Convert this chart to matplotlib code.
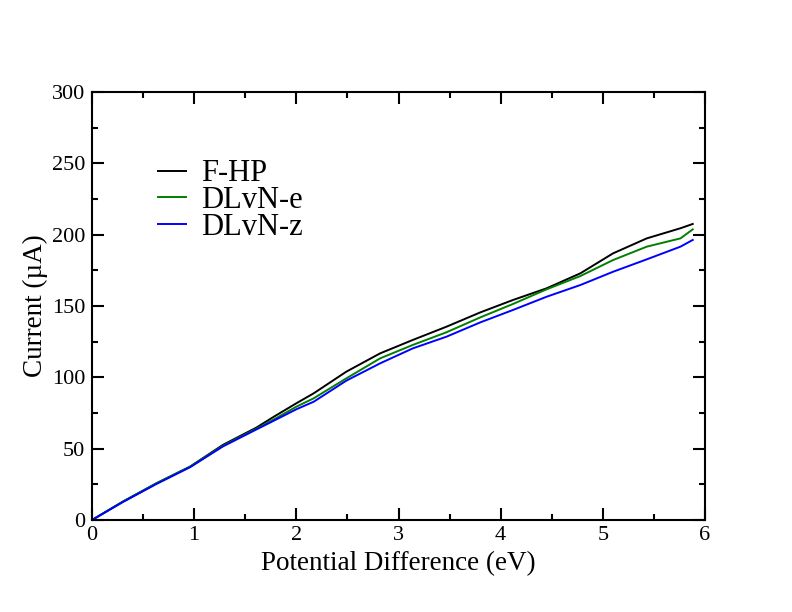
import matplotlib
matplotlib.use("Agg")
import matplotlib.pyplot as plt
from matplotlib.ticker import MultipleLocator

plt.rcParams['font.family'] = ['Liberation Serif', 'DejaVu Serif']

# potential difference (eV) sample points
voltage = [0.0, 0.30, 0.63, 0.96, 1.28, 1.61, 1.78, 2.00, 2.17, 2.49, 2.82,
           3.14, 3.47, 3.80, 4.12, 4.45, 4.78, 5.10, 5.43, 5.76, 5.88]

# current (uA) for each structure
current_fhp = [0.0, 12.8, 25.7, 37.4, 52.6, 64.8, 72.4, 81.8, 88.8, 104.0, 116.8,
               126.2, 135.5, 145.5, 154.2, 162.4, 172.9, 186.9, 197.4, 204.5, 207.5]
current_dlvn_e = [0.0, 12.8, 25.7, 37.4, 52.0, 64.0, 70.5, 79.4, 85.3, 99.3, 113.3,
                  122.7, 131.6, 142.0, 151.4, 161.7, 171.0, 182.2, 191.6, 197.4, 203.7]
current_dlvn_z = [0.0, 12.5, 25.2, 37.0, 51.5, 63.5, 69.6, 77.6, 82.9, 97.7, 109.8,
                  120.3, 128.5, 138.5, 147.2, 156.5, 164.7, 174.0, 182.7, 191.6, 196.3]

labels = ['F-HP', 'DLvN-e', 'DLvN-z']
colors = ['black', 'green', 'blue']

fig = plt.figure(figsize=(7.92, 6.12), dpi=100)
ax = fig.add_axes([92 / 792, 92 / 612, 613 / 792, 428 / 612])

for y, lab, col in zip([current_fhp, current_dlvn_e, current_dlvn_z], labels, colors):
    ax.plot(voltage, y, color=col, lw=1.4, label=lab)

ax.set_xlim(0, 6)
ax.set_ylim(0, 300)
ax.xaxis.set_major_locator(MultipleLocator(1))
ax.xaxis.set_minor_locator(MultipleLocator(0.5))
ax.yaxis.set_major_locator(MultipleLocator(50))
ax.yaxis.set_minor_locator(MultipleLocator(25))
ax.tick_params(which='both', direction='in', top=True, right=True, width=1.5,
               labelsize=16)
ax.tick_params(axis='x', pad=4)
ax.tick_params(axis='y', pad=5)
ax.tick_params(which='major', length=8.5)
ax.tick_params(which='minor', length=4.3)
for s in ax.spines.values():
    s.set_linewidth(1.5)

ax.set_xlabel('Potential Difference (eV)', fontsize=19.5, labelpad=5)
ax.set_ylabel('Current (µA)', fontsize=19.5, labelpad=3)

ax.legend(loc='upper left', bbox_to_anchor=(0.108, 0.843), frameon=False,
          fontsize=22, handlelength=0.9, handletextpad=0.5, labelspacing=-0.07,
          borderpad=0, borderaxespad=0)

fig.savefig('out.png', dpi=100)
